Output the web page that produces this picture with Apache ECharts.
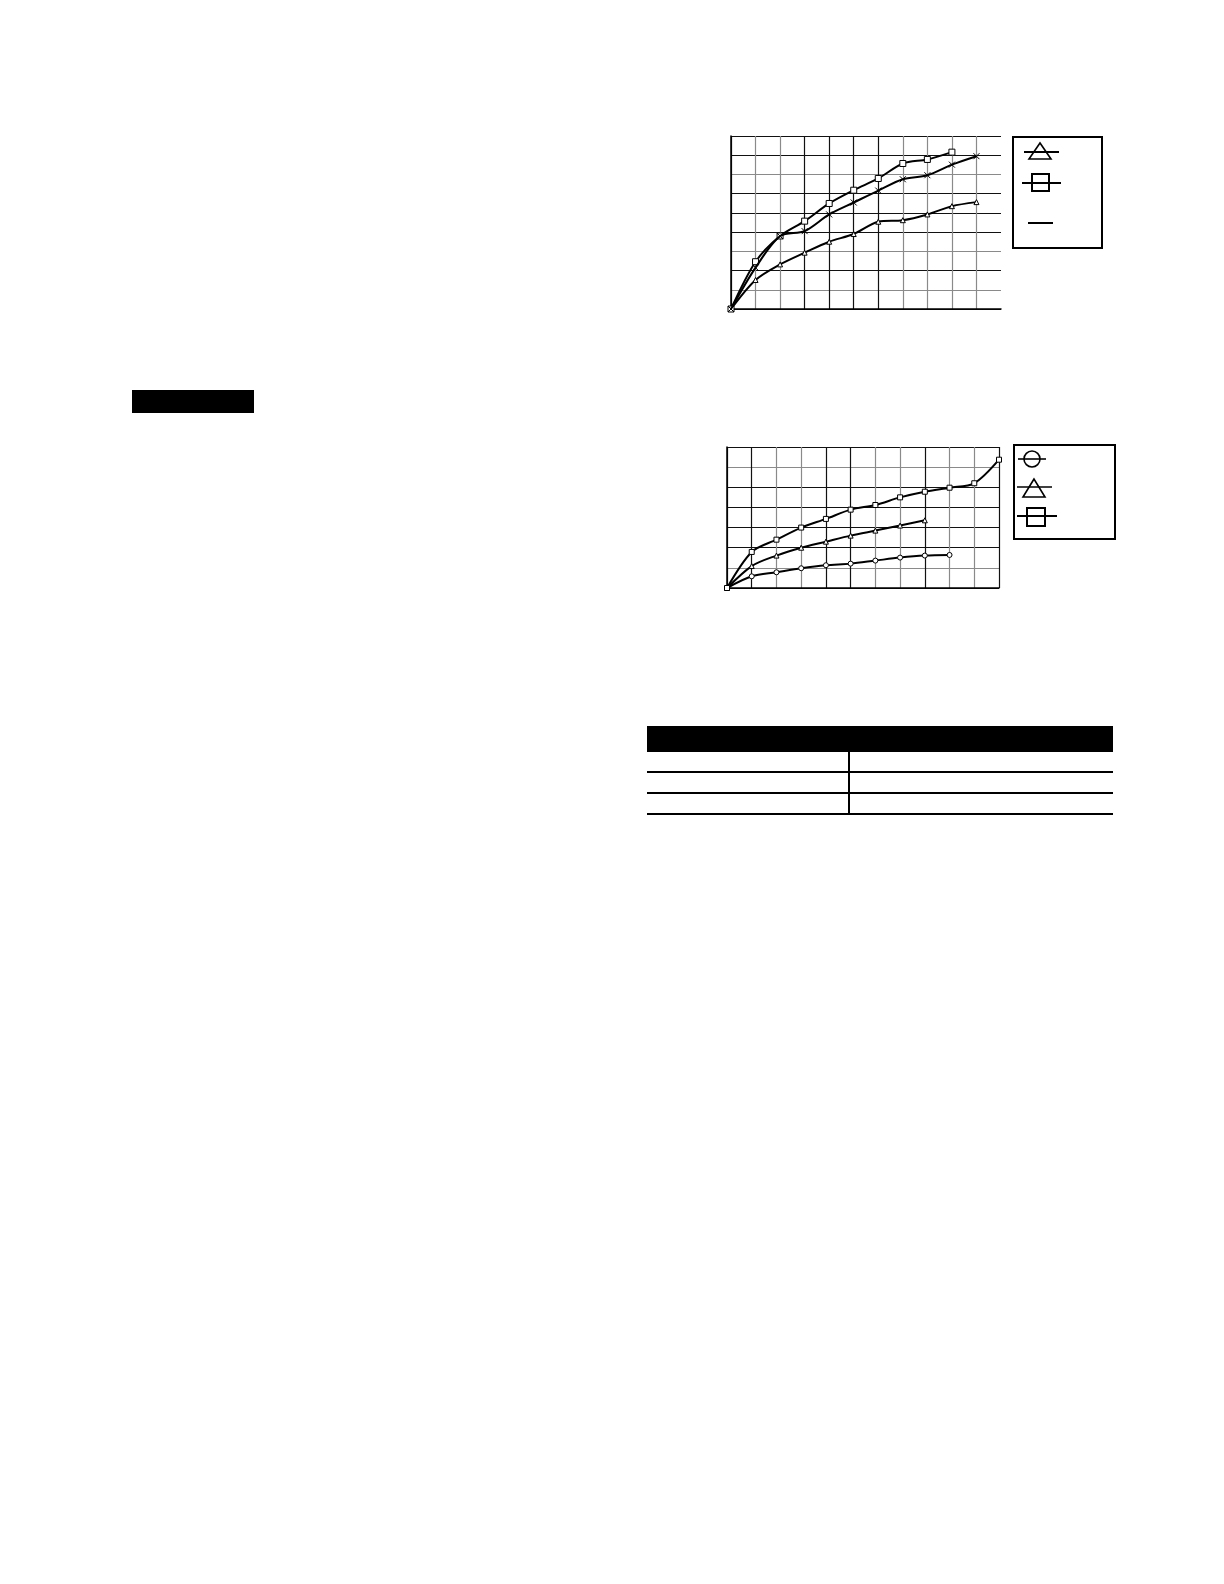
<!DOCTYPE html>
<html>
<head>
<meta charset="utf-8">
<script src="https://cdn.jsdelivr.net/npm/echarts@6/dist/echarts.min.js"></script>
<style>
html,body{margin:0;padding:0;background:#fff;}
#main{width:1224px;height:1584px;}
</style>
</head>
<body>
<div id="main"></div>
<script>
// ---- Chart 1 data (x = grid step, y = grid units) ----
const c1X = [0, 1, 2, 3, 4, 5, 6, 7, 8, 9, 10];
const c1Square = [0, 2.46, 3.8, 4.57, 5.49, 6.18, 6.79, 7.57, 7.78, 8.16];
const c1Cross = [0, 2.15, 3.79, 4.05, 4.92, 5.54, 6.16, 6.75, 6.96, 7.51, 7.95];
const c1Triangle = [0, 1.51, 2.32, 2.93, 3.5, 3.9, 4.54, 4.62, 4.92, 5.35, 5.56];

// ---- Chart 2 data ----
const c2X = [0, 1, 2, 3, 4, 5, 6, 7, 8, 9, 10, 11];
const c2Square = [0, 1.79, 2.40, 3.0, 3.43, 3.89, 4.12, 4.5, 4.78, 4.98, 5.2, 6.37];
const c2Triangle = [0, 1.09, 1.61, 2.0, 2.30, 2.60, 2.85, 3.10, 3.36];
const c2Circle = [0, 0.58, 0.78, 0.98, 1.13, 1.21, 1.36, 1.51, 1.61, 1.64];

const D = '#111111', G = '#8a8a8a';
function pairs(xs, ys) { return ys.map((v, i) => [xs[i], v]); }

const crossPath = 'path://M0,0L10,10M10,0L0,10';

function lineSeries(grid, data, symbol, size, z) {
  return {
    type: 'line', xAxisIndex: grid, yAxisIndex: grid, data: data,
    smooth: 0.3, symbol: symbol, symbolSize: size, z: z,
    lineStyle: { color: '#000', width: 2 },
    itemStyle: { color: '#fff', borderColor: '#000', borderWidth: 1 },
    emphasis: { disabled: true }
  };
}

const chart = echarts.init(document.getElementById('main'), null, { renderer: 'canvas' });

const axisBase = {
  type: 'value', axisLabel: { show: false }, axisTick: { show: false },
  axisLine: { show: true, onZero: false, lineStyle: { color: '#000', width: 1.5 } }
};

const option = {
  animation: false,
  backgroundColor: '#fff',
  grid: [
    { left: 731, top: 136, width: 270, height: 173, show: false },
    { left: 727, top: 447, width: 272, height: 141, show: false }
  ],
  xAxis: [
    Object.assign({}, axisBase, { gridIndex: 0, min: 0, max: 11, interval: 1,
      splitLine: { show: true, showMaxLine: false, lineStyle: { width: 1.2, color: [D, G, G, D, D, D, D, G, G, G, G] } } }),
    Object.assign({}, axisBase, { gridIndex: 1, min: 0, max: 11, interval: 1,
      splitLine: { show: true, lineStyle: { width: 1.2, color: [D, D, G, G, D, D, G, G, D, G, G, D] } } })
  ],
  yAxis: [
    Object.assign({}, axisBase, { gridIndex: 0, min: 0, max: 9, interval: 1,
      splitLine: { show: true, lineStyle: { width: 1.2, color: [D, G, D, G, D, D, D, G, D, D] } } }),
    Object.assign({}, axisBase, { gridIndex: 1, min: 0, max: 7, interval: 1,
      splitLine: { show: true, lineStyle: { width: 1.2, color: [D, G, D, D, D, D, G, D] } } })
  ],
  series: [
    lineSeries(0, pairs(c1X, c1Triangle), 'triangle', 5, 3),
    lineSeries(0, pairs(c1X, c1Square), 'rect', 6, 4),
    lineSeries(0, pairs(c1X, c1Cross), crossPath, 6, 5),
    lineSeries(1, pairs(c2X, c2Circle), 'circle', 5, 3),
    lineSeries(1, pairs(c2X, c2Triangle), 'triangle', 5, 4),
    lineSeries(1, pairs(c2X, c2Square), 'rect', 5, 5)
  ],
  graphic: [
    // black title bar
    { type: 'rect', shape: { x: 132, y: 390, width: 122, height: 23 }, style: { fill: '#000' } },
    // legend box 1
    { type: 'rect', shape: { x: 1013, y: 137, width: 89, height: 111 }, style: { fill: '#fff', stroke: '#000', lineWidth: 2 } },
    { type: 'line', shape: { x1: 1024, y1: 152, x2: 1059, y2: 152 }, style: { stroke: '#000', lineWidth: 2 } },
    { type: 'polygon', shape: { points: [[1040, 143], [1029, 159], [1051, 159]] }, style: { fill: 'none', stroke: '#000', lineWidth: 1.6 } },
    { type: 'line', shape: { x1: 1022, y1: 183, x2: 1061, y2: 183 }, style: { stroke: '#000', lineWidth: 2 } },
    { type: 'rect', shape: { x: 1032, y: 174, width: 17, height: 17 }, style: { fill: 'none', stroke: '#000', lineWidth: 2 } },
    { type: 'line', shape: { x1: 1028, y1: 223, x2: 1053, y2: 223 }, style: { stroke: '#000', lineWidth: 2 } },
    // legend box 2
    { type: 'rect', shape: { x: 1014, y: 445, width: 101, height: 94 }, style: { fill: '#fff', stroke: '#000', lineWidth: 2 } },
    { type: 'line', shape: { x1: 1018, y1: 459, x2: 1046, y2: 459 }, style: { stroke: '#000', lineWidth: 1.6 } },
    { type: 'circle', shape: { cx: 1032, cy: 459, r: 8 }, style: { fill: 'none', stroke: '#000', lineWidth: 1.6 } },
    { type: 'line', shape: { x1: 1017, y1: 487, x2: 1052, y2: 487 }, style: { stroke: '#000', lineWidth: 1.6 } },
    { type: 'polygon', shape: { points: [[1034, 479], [1023, 497], [1045, 497]] }, style: { fill: 'none', stroke: '#000', lineWidth: 1.6 } },
    { type: 'line', shape: { x1: 1017, y1: 516, x2: 1057, y2: 516 }, style: { stroke: '#000', lineWidth: 2 } },
    { type: 'rect', shape: { x: 1027, y: 508, width: 18, height: 18 }, style: { fill: 'none', stroke: '#000', lineWidth: 2 } },
    // table
    { type: 'rect', shape: { x: 647, y: 726, width: 466, height: 26 }, style: { fill: '#000' } },
    { type: 'line', shape: { x1: 647, y1: 772, x2: 1113, y2: 772 }, style: { stroke: '#000', lineWidth: 2 } },
    { type: 'line', shape: { x1: 647, y1: 793, x2: 1113, y2: 793 }, style: { stroke: '#000', lineWidth: 2 } },
    { type: 'line', shape: { x1: 647, y1: 814, x2: 1113, y2: 814 }, style: { stroke: '#000', lineWidth: 2 } },
    { type: 'line', shape: { x1: 849, y1: 752, x2: 849, y2: 814 }, style: { stroke: '#000', lineWidth: 2 } }
  ]
};
chart.setOption(option);
</script>
</body>
</html>
